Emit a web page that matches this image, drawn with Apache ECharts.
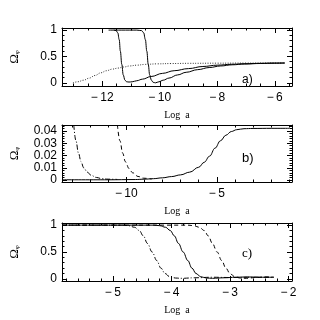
<!DOCTYPE html>
<html>
<head>
<meta charset="utf-8">
<script src="https://cdn.jsdelivr.net/npm/echarts@6/dist/echarts.min.js"></script>
<style>
html,body{margin:0;padding:0;background:#fff;}
#main{width:320px;height:320px;}
</style>
</head>
<body>
<div id="main"></div>
<script>
// panel a) tracker (dotted) and two solid curves
var aDotX = [-13.02,-12.85,-12.65,-12.45,-12.25,-12.05,-11.85,-11.65,-11.45,-11.25,-11.05,-10.8,-10.5,-10.1,-9.6,-9.0,-8.0,-7.0,-6.2,-5.65];
var aDotY = [0.0,0.02,0.05,0.09,0.14,0.19,0.23,0.26,0.28,0.30,0.32,0.335,0.35,0.36,0.366,0.37,0.373,0.375,0.376,0.376];
var aS1X = [-11.78,-11.6,-11.52,-11.46,-11.41,-11.37,-11.32,-11.27,-11.21,-11.15,-11.07,-10.96,-10.8,-10.6,-10.3,-9.9,-9.5,-9.0,-8.5,-8.0,-7.5,-7.0,-6.5,-6.0,-5.65];
var aS1Y = [1,1,0.99,0.95,0.82,0.6,0.35,0.15,0.05,0.02,0.015,0.02,0.04,0.07,0.12,0.18,0.23,0.27,0.31,0.335,0.352,0.363,0.37,0.374,0.376];
var aS2X = [-11.6,-10.8,-10.63,-10.56,-10.5,-10.45,-10.4,-10.35,-10.29,-10.23,-10.15,-10.03,-9.88,-9.68,-9.38,-9.08,-8.68,-8.28,-7.88,-7.48,-7.05,-6.5,-6.0,-5.65];
var aS2Y = [1,1,0.99,0.95,0.82,0.6,0.35,0.15,0.05,0.01,0.0,0.02,0.05,0.09,0.15,0.2,0.25,0.29,0.32,0.342,0.356,0.367,0.373,0.376];

// panel b)
var bDashDotX = [-12.9,-12.78,-12.64,-12.5,-12.35,-12.15,-11.95,-11.65,-11.35,-11.0,-10.5];
var bDashDotY = [0.0448,0.032,0.022,0.015,0.01,0.0065,0.004,0.0022,0.0012,0.0008,0.0006];
var bDashX = [-10.49,-10.35,-10.2,-10.05,-9.85,-9.65,-9.35,-9.05,-8.6];
var bDashY = [0.0448,0.032,0.022,0.015,0.0095,0.006,0.003,0.0016,0.0009];
var bSolidX = [-13.55,-11.0,-9.5,-9.0,-8.5,-8.0,-7.5,-7.0,-6.5,-6.0,-5.7,-5.4,-5.1,-4.8,-4.5,-4.2,-3.9,-3.5,-3.0,-2.0,-1.0];
var bSolidY = [0.0003,0.0003,0.0005,0.0008,0.0012,0.0019,0.0029,0.0043,0.0065,0.0105,0.0145,0.0195,0.026,0.032,0.0365,0.0395,0.041,0.0418,0.042,0.0421,0.0421];

// panel c)
var cDashDotX = [-5.87,-4.83,-4.73,-4.63,-4.55,-4.48,-4.41,-4.33,-4.25,-4.18,-4.11,-4.03,-3.93,-3.83,-3.6,-3.3,-3.0,-2.7,-2.45,-2.25];
var cDashDotY = [1,1,0.99,0.96,0.9,0.8,0.66,0.5,0.34,0.2,0.1,0.04,0.015,0.01,0.02,0.03,0.025,0.03,0.03,0.03];
var cSolidX = [-5.87,-4.3,-4.2,-4.1,-4.02,-3.95,-3.88,-3.8,-3.72,-3.65,-3.58,-3.5,-3.4,-3.3,-3.1,-2.9,-2.7,-2.45,-2.25];
var cSolidY = [1,1,0.99,0.96,0.9,0.8,0.66,0.5,0.34,0.2,0.1,0.04,0.015,0.01,0.02,0.03,0.035,0.03,0.03];
var cDashX = [-5.87,-3.72,-3.62,-3.52,-3.44,-3.37,-3.3,-3.22,-3.14,-3.07,-3.0,-2.92,-2.82,-2.72,-2.55,-2.4,-2.25];
var cDashY = [1,1,0.99,0.96,0.9,0.8,0.66,0.5,0.34,0.2,0.1,0.04,0.015,0.01,0.025,0.035,0.03];

// ticks
var aMajorX = [-12,-10,-8,-6];
var aMinorX = [-13,-12.5,-11.5,-11,-10.5,-9.5,-9,-8.5,-7.5,-7,-6.5,-5.5];
var abMajorY = [0,0.5,1];
var acMinorY = [0.1,0.2,0.3,0.4,0.6,0.7,0.8,0.9];
var bMajorX = [-10,-5];
var bMinorX = [-13,-12,-11,-9,-8,-7,-6,-4,-3,-2,-1];
var bMajorY = [0,0.01,0.02,0.03,0.04];
var bMinorY = [0.002,0.004,0.006,0.008,0.012,0.014,0.016,0.018,0.022,0.024,0.026,0.028,0.032,0.034,0.036,0.038,0.042,0.044];
var cMajorX = [-5,-4,-3,-2];
var cMinorX = [-5.8,-5.6,-5.4,-5.2,-4.8,-4.6,-4.4,-4.2,-3.8,-3.6,-3.4,-3.2,-2.8,-2.6,-2.4,-2.2];

var zip = function(xs, ys){
    return xs.map(function(x, i){ return [x, ys[i]]; });
};
var minus = function(v){
    return v < 0 ? '\u2212\u2009' + (-v) : String(v);
};
var yFmt2 = function(v){
    return v === 0 ? '0' : v.toFixed(2);
};

var black = '#000';
var xAxes = [], yAxes = [], series = [];

// one panel: grid g, 4 x axes (bottom/top, major/minor), 4 y axes
function panel(g, xr, yr, majX, minX, majY, minY, yFormatter) {
    ['bottom','top'].forEach(function(pos){
        [true,false].forEach(function(major){
            xAxes.push({
                gridIndex: g, type: 'value', min: xr[0], max: xr[1], position: pos,
                axisLine: {show: major, onZero: false, lineStyle: {color: black, width: 1}},
                axisTick: {show: true, inside: true, length: major ? 5 : 2.5,
                    customValues: major ? majX : minX, lineStyle: {color: black, width: 1}},
                axisLabel: {show: major && pos === 'bottom', customValues: majX, formatter: minus,
                    color: black, fontSize: 12, fontFamily: 'Liberation Sans', margin: 6},
                splitLine: {show: false},
                name: (major && pos === 'bottom') ? 'Log  a' : '',
                nameLocation: 'middle', nameGap: 24,
                nameTextStyle: {fontFamily: 'Liberation Serif', fontSize: 10, color: black}
            });
        });
    });
    ['left','right'].forEach(function(pos){
        [true,false].forEach(function(major){
            yAxes.push({
                gridIndex: g, type: 'value', min: yr[0], max: yr[1], position: pos,
                axisLine: {show: major, onZero: false, lineStyle: {color: black, width: 1}},
                axisTick: {show: true, inside: true, length: major ? 5 : 2.5,
                    customValues: major ? majY : minY, lineStyle: {color: black, width: 1}},
                axisLabel: {show: major && pos === 'left', customValues: majY, formatter: yFormatter,
                    color: black, fontSize: 12, fontFamily: 'Liberation Sans', margin: 5},
                splitLine: {show: false},
                name: (major && pos === 'left') ? '{o|Ω}{s|φ}' : '',
                nameLocation: 'middle', nameRotate: 90, nameGap: 41,
                nameTextStyle: {color: black, rich: {
                    o: {fontFamily: 'Liberation Serif', fontSize: 13, color: black},
                    s: {fontFamily: 'Liberation Serif', fontSize: 7, color: black, padding: [5,0,0,0]}
                }}
            });
        });
    });
}

function line(g, xs, ys, type, color) {
    series.push({
        type: 'line', xAxisIndex: g * 4, yAxisIndex: g * 4,
        data: zip(xs, ys), showSymbol: false, smooth: 0.4, smoothMonotone: 'x',
        lineStyle: {color: color || black, width: 1, type: type || 'solid'},
        silent: true, animation: false
    });
}

panel(0, [-13.4,-5.4], [-0.06,1.04], aMajorX, aMinorX, abMajorY, acMinorY, function(v){ return String(v); });
panel(1, [-13.55,-0.85], [-0.0015,0.0448], bMajorX, bMinorX, bMajorY, bMinorY, yFmt2);
panel(2, [-5.87,-1.94], [-0.04,1.04], cMajorX, cMinorX, abMajorY, acMinorY, function(v){ return String(v); });

line(0, aDotX, aDotY, [1,1.5], '#333');
line(0, aS1X, aS1Y);
line(0, aS2X, aS2Y);
line(1, bDashDotX, bDashDotY, [5,2,1,2]);
line(1, bDashX, bDashY, [4,3]);
line(1, bSolidX, bSolidY);
line(2, cDashDotX, cDashDotY, [5,2,1,2]);
line(2, cSolidX, cSolidY);
line(2, cDashX, cDashY, [4,3]);

var chart = echarts.init(document.getElementById('main'), null, {renderer: 'canvas'});
chart.setOption({
    animation: false,
    backgroundColor: '#fff',
    grid: [
        {left: 59, top: 28, width: 233, height: 58},
        {left: 59, top: 125, width: 233, height: 57},
        {left: 59, top: 223, width: 233, height: 58}
    ],
    xAxis: xAxes,
    yAxis: yAxes,
    series: series,
    graphic: [
        {type: 'text', left: 242, top: 74, style: {text: 'a)', font: '12px "Liberation Sans"', fill: black}},
        {type: 'text', left: 242, top: 152, style: {text: 'b)', font: '13px "Liberation Sans"', fill: black}},
        {type: 'text', left: 242, top: 247, style: {text: 'c)', font: '13px "Liberation Serif"', fill: black}}
    ]
});
</script>
</body>
</html>
